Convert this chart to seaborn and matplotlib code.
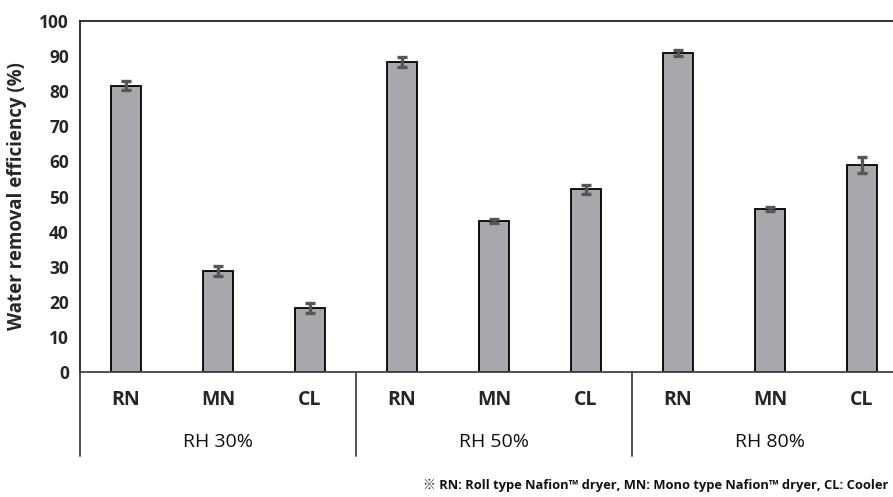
import matplotlib
matplotlib.use("Agg")
import matplotlib.pyplot as plt
import matplotlib.transforms as mtransforms
import numpy as np
import pandas as pd
import seaborn as sns

# Water removal efficiency by dryer type and relative humidity
groups = ["RH 30%", "RH 50%", "RH 80%"]
dryers = ["RN", "MN", "CL"]
efficiency_30 = [81.5, 28.8, 18.2]
efficiency_50 = [88.3, 43.0, 52.1]
efficiency_80 = [90.9, 46.4, 59.0]
error_30 = [1.3, 1.5, 1.5]
error_50 = [1.4, 0.5, 1.3]
error_80 = [0.8, 0.6, 2.3]
y_ticks = [0, 10, 20, 30, 40, 50, 60, 70, 80, 90, 100]
footnote = "※ RN: Roll type Nafion™ dryer, MN: Mono type Nafion™ dryer, CL: Cooler"

values = efficiency_30 + efficiency_50 + efficiency_80
errors = error_30 + error_50 + error_80
keys = [f"{g}|{d}" for g in groups for d in dryers]
df = pd.DataFrame({"key": keys, "value": values, "err": errors})

sns.set_theme(style="white")
plt.rcParams["font.family"] = ["Open Sans", "Noto Sans CJK KR", "DejaVu Sans"]

W, H = 893, 497
left_px, right_px, top_px, zero_px = 80, 908, 21, 372
fig = plt.figure(figsize=(W / 100, H / 100), dpi=100)
ax = fig.add_axes([left_px / W, 1 - zero_px / H, (right_px - left_px) / W,
                   (zero_px - top_px) / H])

sns.barplot(data=df, x="key", y="value", order=keys, color="#a7a8ac",
            edgecolor="black", linewidth=1.3, width=0.33, saturation=1,
            errorbar=None, ax=ax)
ax.errorbar(np.arange(len(keys)), df["value"], yerr=df["err"], fmt="none",
            ecolor="#555659", elinewidth=2.4, capsize=3.8, capthick=2.4, zorder=5)

ax.set_xlim(-0.5, len(keys) - 0.5)
ax.set_ylim(0, 100)
ax.set_yticks(y_ticks)
ax.set_yticklabels([str(t) for t in y_ticks], fontsize=12.5, fontweight="bold")
ax.set_xticks(np.arange(len(keys)))
ax.set_xticklabels([k.split("|")[1] for k in keys], fontsize=14, fontweight="bold")
ax.tick_params(axis="x", length=0, pad=13)
ax.tick_params(axis="y", length=0, pad=8)
ax.set_xlabel("")
ax.set_ylabel("Water removal efficiency (%)", fontsize=13.5, fontweight="bold", labelpad=9)

for side in ["left", "top", "bottom"]:
    ax.spines[side].set_visible(True)
    ax.spines[side].set_color("#222222")
    ax.spines[side].set_linewidth(1.3)
ax.spines["right"].set_visible(False)
ax.spines["bottom"].set_color("#444444")

# Group separators and group labels below the axis
trans = mtransforms.blended_transform_factory(ax.transData, ax.transAxes)
span = zero_px - top_px
depth = -(456 - zero_px) / span
for xs in [-0.5, 2.5, 5.5]:
    ax.plot([xs, xs], [0, depth], transform=trans, color="#444444",
            linewidth=1.3, clip_on=False)
for i, g in enumerate(groups):
    ax.text(i * 3 + 1, -(442 - zero_px) / span, g, transform=trans,
            ha="center", va="center", fontsize=14, fontweight="medium",
            color="#111111")

fig.text(888 / W, 1 - 485 / H, footnote, ha="right", va="center",
         fontsize=9.3, fontweight="bold", color="#111111")

fig.savefig("out.png", dpi=100, facecolor="white")
